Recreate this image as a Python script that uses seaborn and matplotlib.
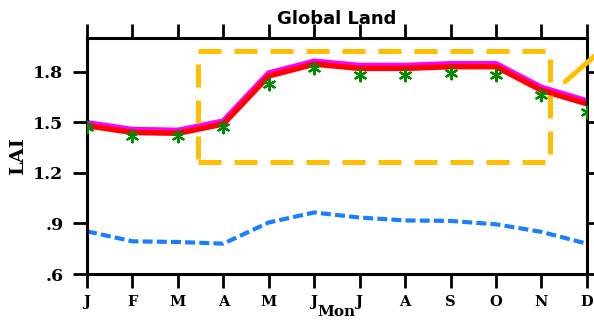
import matplotlib
matplotlib.use("Agg")
import matplotlib.pyplot as plt
import matplotlib.patches as mpatches
import numpy as np
import pandas as pd
import seaborn as sns

months = ["J", "F", "M", "A", "M", "J", "J", "A", "S", "O", "N", "D"]
lai_magenta = [1.495, 1.455, 1.45, 1.505, 1.79, 1.86, 1.835, 1.835, 1.845, 1.845, 1.705, 1.625]
lai_red = [1.48, 1.44, 1.435, 1.49, 1.775, 1.845, 1.82, 1.82, 1.83, 1.83, 1.69, 1.61]
lai_obs = [1.47, 1.42, 1.42, 1.47, 1.73, 1.82, 1.78, 1.78, 1.79, 1.78, 1.66, 1.56]
lai_blue = [0.853, 0.794, 0.79, 0.78, 0.906, 0.965, 0.935, 0.918, 0.915, 0.895, 0.85, 0.78]
yticks = [0.6, 0.9, 1.2, 1.5, 1.8]
ytick_labels = [".6", ".9", "1.2", "1.5", "1.8"]

idx = np.arange(len(months))
df = pd.DataFrame({"m": idx, "mag": lai_magenta, "red": lai_red,
                   "obs": lai_obs, "blue": lai_blue})

sns.set_style("ticks", {"axes.edgecolor": "black", "text.color": "black",
                        "xtick.color": "black", "ytick.color": "black",
                        "axes.labelcolor": "black"})
plt.rcParams["font.family"] = ["DejaVu Serif"]

fig = plt.figure(figsize=(5.94, 3.22), dpi=100)
ax = fig.add_axes([0.1465, 0.149, 0.8415, 0.733])

sns.lineplot(data=df, x="m", y="blue", ax=ax, color="#1a7fff", lw=3.0,
             linestyle=(0, (2.4, 1.0)))
sns.lineplot(data=df, x="m", y="mag", ax=ax, color="#ff00ff", lw=4.5)
sns.lineplot(data=df, x="m", y="red", ax=ax, color="#ff0000", lw=4.0)
sns.scatterplot(data=df, x="m", y="obs", ax=ax, marker=(6, 2, 0), s=70,
                color="#008a00", linewidth=1.6, edgecolor="#008a00", zorder=5)

# highlight box around the growing season
rect = mpatches.Rectangle((2.44, 1.265), 10.19 - 2.44, 1.924 - 1.265,
                          fill=False, edgecolor="#ffbf00", lw=3.6,
                          linestyle=(0, (4.6, 2.6)), joinstyle="round",
                          zorder=6)
ax.add_patch(rect)
ax.plot([10.52, 11.29], [1.741, 1.92], color="#ffbf00", lw=3.6,
        clip_on=False, zorder=6)

ax.set_xlim(0, 11)
ax.set_ylim(0.6, 2.0)
ax.set_xticks(idx)
ax.set_xticklabels(months, fontsize=10.5, fontweight="bold")
ax.set_yticks(yticks)
ax.set_yticklabels(ytick_labels, fontsize=12.5, fontweight="bold")
ax.tick_params(axis="both", direction="out", length=10, width=2.0,
               top=True, right=True, color="black", labelcolor="black")
ax.tick_params(axis="y", pad=7)
ax.tick_params(axis="x", pad=5)
for s in ax.spines.values():
    s.set_visible(True)
    s.set_linewidth(2.2)
    s.set_color("black")

ax.set_xlabel("Mon", fontsize=11, fontweight="bold", labelpad=-3,
              color="black")
ax.set_ylabel("LAI", fontsize=14, fontweight="bold", labelpad=4,
              color="black")
ax.set_title("Global Land", fontsize=13, fontweight="bold",
             family=["DejaVu Sans"], pad=10, color="black")

fig.savefig("out.png", dpi=100)
